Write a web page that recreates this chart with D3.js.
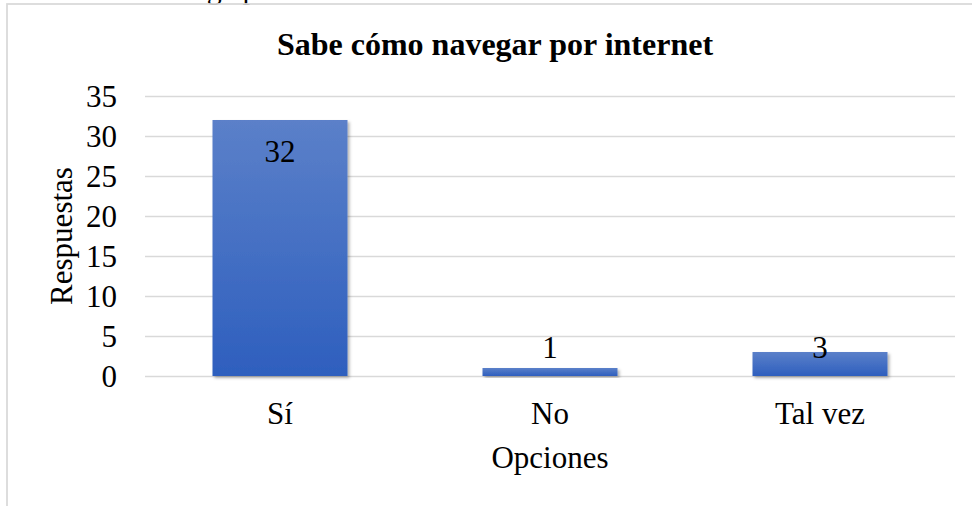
<!DOCTYPE html>
<html>
<head>
<meta charset="utf-8">
<script src="https://cdn.jsdelivr.net/npm/d3@7"></script>
<style>
  body { margin: 0; background: #fff; }
  text { font-family: "Liberation Serif", "Times New Roman", serif; fill: #000; }
</style>
</head>
<body>
<svg id="chart" width="972" height="506"></svg>
<script>
// datos
var categorias = ["Sí", "No", "Tal vez"];
var respuestas = [32, 1, 3];
var yTicks = [0, 5, 10, 15, 20, 25, 30, 35];

var titulo = "Sabe cómo navegar por internet";
var tituloX = "Opciones";
var tituloY = "Respuestas";

var svg = d3.select("#chart");

var plotLeft = 145, plotRight = 955, plotTop = 96, plotBottom = 376;

var xScale = d3.scaleBand().domain(categorias).range([plotLeft, plotRight]).paddingInner(0.5).paddingOuter(0.25);
var yScale = d3.scaleLinear().domain([0, 35]).range([plotBottom, plotTop]);

// gradiente y sombra de las barras
var defs = svg.append("defs");
var grad = defs.append("linearGradient")
    .attr("id", "barGrad")
    .attr("x1", 0).attr("y1", 0).attr("x2", 0).attr("y2", 1);
grad.append("stop").attr("offset", "0%").attr("stop-color", "#5b80c9");
grad.append("stop").attr("offset", "100%").attr("stop-color", "#2e5fbe");

var filt = defs.append("filter").attr("id", "sombra")
    .attr("x", "-10%").attr("y", "-10%").attr("width", "130%").attr("height", "130%");
filt.append("feDropShadow")
    .attr("dx", 2).attr("dy", 2).attr("stdDeviation", 1.5)
    .attr("flood-color", "#000").attr("flood-opacity", 0.3);

// texto recortado arriba (pie de la figura anterior)
svg.append("text")
    .attr("x", 150)
    .attr("y", -1)
    .attr("font-size", 30)
    .text("navega por internet");

// borde del grafico
svg.append("rect")
    .attr("x", 7).attr("y", 4)
    .attr("width", 1000).attr("height", 600)
    .attr("fill", "none")
    .attr("stroke", "#d9d9d9")
    .attr("stroke-width", 1.75);

// grid
svg.append("g")
    .attr("class", "grid")
    .attr("transform", "translate(" + plotLeft + ",0)")
    .call(d3.axisLeft(yScale).tickValues(yTicks).tickSize(-(plotRight - plotLeft)).tickFormat(""))
    .call(function (g) {
        g.select(".domain").remove();
        g.selectAll("line").attr("stroke", "#d9d9d9").attr("stroke-width", 1.4);
    });

// etiquetas eje y
svg.append("g")
    .attr("transform", "translate(117,0)")
    .call(d3.axisLeft(yScale).tickValues(yTicks).tickSize(0).tickPadding(0))
    .call(function (g) {
        g.select(".domain").remove();
        g.selectAll("text")
            .attr("font-family", "Liberation Serif")
            .attr("font-size", 31)
            .attr("fill", "#000")
            .attr("dy", "0.34em");
    });

// barras
svg.append("g")
    .selectAll("rect")
    .data(respuestas)
    .join("rect")
    .attr("x", function (d, i) { return xScale(categorias[i]); })
    .attr("y", function (d) { return yScale(d); })
    .attr("width", xScale.bandwidth())
    .attr("height", function (d) { return yScale(0) - yScale(d); })
    .attr("fill", "url(#barGrad)")
    .attr("filter", "url(#sombra)");

// etiquetas de datos
svg.append("g")
    .selectAll("text")
    .data(respuestas)
    .join("text")
    .attr("x", function (d, i) { return xScale(categorias[i]) + xScale.bandwidth() / 2; })
    .attr("y", function (d) { return d > 10 ? yScale(d) + 42 : yScale(0) - 18; })
    .attr("text-anchor", "middle")
    .attr("font-size", 31)
    .text(function (d) { return d; });

// etiquetas eje x
svg.append("g")
    .attr("transform", "translate(0,424)")
    .call(d3.axisBottom(xScale).tickSize(0).tickPadding(0))
    .call(function (g) {
        g.select(".domain").remove();
        g.selectAll("text")
            .attr("font-family", "Liberation Serif")
            .attr("font-size", 31)
            .attr("fill", "#000")
            .attr("dy", 0);
    });

// titulo
svg.append("text")
    .attr("x", 495)
    .attr("y", 55)
    .attr("text-anchor", "middle")
    .attr("font-size", 32)
    .attr("font-weight", "bold")
    .text(titulo);

// titulo eje x
svg.append("text")
    .attr("x", 550)
    .attr("y", 468)
    .attr("text-anchor", "middle")
    .attr("font-size", 31)
    .text(tituloX);

// titulo eje y
svg.append("text")
    .attr("transform", "translate(72,236) rotate(-90)")
    .attr("text-anchor", "middle")
    .attr("font-size", 31)
    .text(tituloY);
</script>
</body>
</html>
